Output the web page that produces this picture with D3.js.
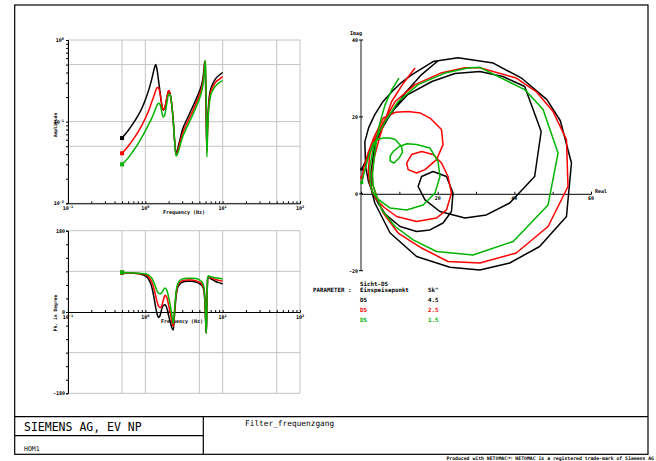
<!DOCTYPE html>
<meta charset="utf-8">
<style>
  body { margin: 0; background: #fff; }
  svg { display: block; font-family: "DejaVu Sans Mono", monospace; }
  .grid line { stroke: #c4c4c4; stroke-width: 1px; }
  .curve { fill: none; stroke-width: 1.5px; stroke-linejoin: round; }
  .lbl { font-size: 5px; font-weight: bold; }
  .axis path, .axis line { stroke: #000; stroke-width: 1px; }
  .frame { fill: none; stroke: #000; stroke-width: 1.2px; }
</style>
<body>
<script src="https://cdn.jsdelivr.net/npm/d3@7/dist/d3.min.js"></script>
<script>

// frequency grid (Hz), shared by the three curves
var freq = [0.5, 0.6, 0.7, 0.8, 0.9, 1.0, 1.1, 1.2, 1.3, 1.36, 1.42, 1.48, 1.55, 1.62, 1.7, 1.8, 1.9, 2.0, 2.1, 2.2,
            2.3, 2.4, 2.5, 2.6, 2.8, 3.0, 3.5, 4.0, 4.5, 5.0, 5.3, 5.55, 5.75, 5.85, 5.95, 6.05, 6.15, 6.25, 6.4, 6.6,
            6.8, 7.0, 7.5, 8.0, 9.0, 10.0];

// amplitude
var ampBlack = [0.063, 0.078, 0.096, 0.118, 0.145, 0.185, 0.24, 0.32, 0.44, 0.50, 0.43, 0.32, 0.23, 0.17, 0.138, 0.15, 0.195, 0.238, 0.215, 0.16,
                0.10, 0.056, 0.040, 0.045, 0.060, 0.078, 0.11, 0.145, 0.185, 0.235, 0.275, 0.34, 0.45, 0.54, 0.42, 0.20, 0.09, 0.05, 0.10, 0.17,
                0.22, 0.25, 0.295, 0.33, 0.37, 0.40];
var ampRed   = [0.041, 0.05, 0.061, 0.074, 0.09, 0.11, 0.135, 0.17, 0.21, 0.24, 0.26, 0.262, 0.22, 0.165, 0.14, 0.155, 0.20, 0.24, 0.215, 0.16,
                0.10, 0.056, 0.039, 0.042, 0.055, 0.07, 0.098, 0.128, 0.165, 0.21, 0.25, 0.31, 0.41, 0.52, 0.55, 0.30, 0.10, 0.043, 0.09, 0.155,
                0.20, 0.23, 0.27, 0.30, 0.33, 0.356];
var ampGreen = [0.030, 0.036, 0.044, 0.053, 0.064, 0.077, 0.092, 0.108, 0.13, 0.145, 0.16, 0.168, 0.163, 0.135, 0.114, 0.125, 0.17, 0.215, 0.215, 0.16,
                0.10, 0.055, 0.038, 0.040, 0.050, 0.063, 0.088, 0.115, 0.148, 0.19, 0.225, 0.28, 0.37, 0.46, 0.56, 0.40, 0.13, 0.037, 0.08, 0.14,
                0.18, 0.21, 0.245, 0.27, 0.30, 0.318];

// phase (degree)
var phaseBlack = [87, 86.5, 86, 85, 83, 80, 73, 58, 30, 10, -5, -12, -8, 5, 14, 16, 8, -8, -22, -35,
                  -40, 0, 35, 52, 62, 66, 68, 68, 66, 63, 60, 55, 45, 30, 5, -30, -47, 15, 72, 78,
                  76, 74, 71, 68, 65, 62];
var phaseRed   = [87, 86.5, 86, 85.5, 84.5, 83, 78, 68, 50, 36, 22, 13, 10, 12, 25, 37, 32, 15, -2, -20,
                  -32, 5, 40, 56, 66, 69, 71, 71, 69, 66, 63, 58, 48, 35, 10, -28, -47, 15, 74, 78,
                  77, 76, 74, 72, 70, 68];
var phaseGreen = [87.5, 87, 86.5, 86, 85.5, 84.5, 82, 76, 64, 55, 46, 42, 40, 42, 48, 53, 48, 33, 15, -5,
                  -26, 10, 45, 60, 70, 73, 75, 75, 74, 71, 68, 63, 53, 40, 15, -25, -47, 15, 76, 80,
                  79, 78, 77, 76, 74.5, 73];

// locus: [real, imag]
var nyqBlack = [[0.2, 6.4], [1.2, 8.5], [2.3, 11], [3.6, 14], [5.5, 17.5], [8.1, 21.4], [12.2, 25.8], [18.5, 29.2], [24.5, 31.3], [31, 31.8],
                [37, 30.5], [42.7, 27.9], [47, 16.2], [45.3, 4.5], [38.8, -2.4], [32.7, -5.5], [27.1, -6.3], [20.6, -4.6], [16.7, -1.6], [14.9, 1.9],
                [15.8, 4.5], [18.8, 5.8], [22.3, 4.5], [24, 0.2], [23.6, -4.6], [21.4, -7.6], [18, -9.4], [14.5, -9.8], [10.2, -8.5], [6.5, -5.5],
                [4.5, -2.5], [3.2, 0], [2, 3], [1.2, 7], [1, 13.5], [2, 17.2], [3.6, 20.6], [5.6, 23.8], [8.1, 26.6], [10.6, 29],
                [13.3, 31], [18.8, 34.4], [25.3, 35.4], [34.5, 34], [42, 30], [48.5, 24.5], [52, 19], [54.9, 8], [53.6, -5.9], [46.6, -13.7],
                [38.8, -18], [31, -19.8], [23.2, -19.1], [14.5, -16.3], [7.6, -10.2], [3.6, -2.4], [2.6, 1.5], [2.6, 5.5], [3.6, 12.8], [5.2, 16.5],
                [7.1, 19.7], [11.5, 26.2], [15.8, 31], [20.1, 34.6]];
var nyqRed = [[0.2, 4.2], [0.8, 7], [1.8, 10.5], [3.3, 14.5], [5.8, 19.7], [9, 21.2], [12.3, 21.4], [15.5, 21], [18, 19.7], [21, 16.7],
              [21.4, 12.8], [19.7, 8.9], [16.7, 6.3], [14.5, 5.4], [12.3, 6.3], [11.9, 8], [13.2, 10.2], [15.8, 11], [18.8, 10.2], [21, 8],
              [22.7, 4.5], [23.6, 0.2], [22.3, -4.2], [19.7, -6.3], [14.5, -7.2], [9.3, -5.9], [6, -3.5], [4.1, -1.6], [3, 0.5], [2.2, 3],
              [1.9, 6], [2.3, 10.2], [3.5, 14], [5.5, 18], [8.9, 24], [14.1, 28.4], [21.1, 31.5], [27.1, 32.8], [31, 32.8], [40.5, 30.1],
              [45.7, 26.6], [50.1, 21.4], [53.6, 14.1], [54, 1.9], [48.8, -8.5], [40.5, -15.4], [31, -18], [22.7, -17.6], [15.8, -14.1], [9.7, -10.2],
              [5.8, -5], [4.1, -0.7], [3, 2.5], [2.9, 6], [3.6, 10], [4.8, 14.5], [6.2, 19], [8, 24], [11, 28.7], [14.1, 32.7]];
var nyqGreen = [[0.2, 2.9], [0.7, 5], [1.5, 8], [2.3, 10.8], [3.2, 13.2], [4.5, 14.2], [5.8, 14.5], [7.5, 14.5], [8.9, 14.1], [10.6, 12.3],
                [10.8, 10.8], [10, 9.4], [8.6, 8], [7.6, 8.6], [7.6, 9.8], [8.4, 11], [10, 12.3], [12, 13], [14.5, 12.8], [18, 11.9],
                [20.1, 8.4], [20.6, 4.5], [19.3, 0.2], [16.2, -2.9], [11.9, -4.2], [7.6, -3.7], [4.1, -1.1], [3, 0.5], [2.4, 3], [2.3, 7],
                [3.2, 11.9], [4.5, 15.5], [6.3, 18.8], [9.7, 24], [14.9, 28.4], [21.9, 31.4], [27.9, 32.7], [31, 32.9], [42.7, 27.1], [47.5, 21.9],
                [51.4, 10.6], [48.8, -2.9], [39.7, -12.4], [29.2, -15.9], [19.7, -15], [13.6, -12], [8.9, -8.5], [5.4, -4.2], [4.1, -0.7], [3.2, 2],
                [3, 5], [3.4, 9], [4, 13.5], [4.8, 18], [6.3, 23.2], [8, 27], [9.9, 30.1]];

// legend
var legendPoint = ["DS", "DS", "DS"];
var legendSk = ["4.5", "2.5", "1.5"];
var colors = ["#000000", "#ff0000", "#00b400"];

// tick labels
var freqExps = ["-1", "0", "1", "2"];
var ampExps = ["0", "-1", "-2"];
var phaseTicks = [180, 0, -180];
var nyqXTicks = [20, 40, 60];
var nyqYTicks = [40, 20, 0, -20];

var W = 656, H = 461;
var svg = d3.select("body").append("svg").attr("width", W).attr("height", H);

// scales
var xF = d3.scaleLog().domain([0.1, 100]).range([68, 300]);
var yA = d3.scaleLog().domain([0.01, 1]).range([203.3, 40]);
var yP = d3.scaleLinear().domain([-180, 180]).range([393.3, 230.7]);
var xN = d3.scaleLinear().domain([0, 60]).range([361, 591]);
var yN = d3.scaleLinear().domain([-20, 40]).range([270.7, 40]);

var minorF = [];
[0.1, 1, 10].forEach(function(d) { for (var k = 1; k < 10; k++) minorF.push(d * k); });
minorF.push(100);
var minorA = [];
[0.01, 0.1].forEach(function(d) { for (var k = 1; k < 10; k++) minorA.push(d * k); });
minorA.push(1);

function powLabel(x, y, exp, anchor) {
  var t = svg.append("text").attr("class", "lbl").attr("x", x).attr("y", y).attr("text-anchor", anchor);
  t.append("tspan").text("10");
  t.append("tspan").attr("dy", -2).style("font-size", "3.6px").text(exp);
}

// ---------- amplitude plot ----------
var gA = svg.append("g").attr("class", "grid");
[0.1, 0.5, 1, 5, 10, 50, 100].forEach(function(f) {
  gA.append("line").attr("x1", xF(f)).attr("x2", xF(f)).attr("y1", yA(1)).attr("y2", yA(0.01));
});
[0.01, 0.05, 0.1, 0.5, 1].forEach(function(a) {
  gA.append("line").attr("x1", xF(0.1)).attr("x2", xF(100)).attr("y1", yA(a)).attr("y2", yA(a));
});
svg.append("g").attr("class", "axis")
  .attr("transform", "translate(" + xF(0.1) + ",0)")
  .call(d3.axisLeft(yA).tickValues(minorA).tickSize(2).tickFormat(""));
svg.append("g").attr("class", "axis")
  .attr("transform", "translate(0," + yA(0.01) + ")")
  .call(d3.axisTop(xF).tickValues(minorF).tickSize(2).tickFormat(""));

freqExps.forEach(function(e) { powLabel(xF(Math.pow(10, +e)), 210, e, "middle"); });
ampExps.forEach(function(e) { powLabel(64, yA(Math.pow(10, +e)) + 2, e, "end"); });
svg.append("text").attr("class", "lbl").attr("x", 184).attr("y", 214).attr("text-anchor", "middle").text("Frequency (Hz)");
svg.append("text").attr("class", "lbl").style("font-size", "4.5px")
  .attr("transform", "translate(57,125) rotate(-90)").attr("text-anchor", "middle").text("Amplitude");

var ampLine = d3.line().curve(d3.curveMonotoneX)
  .x(function(d, i) { return xF(freq[i]); })
  .y(function(d) { return yA(d); });
[ampBlack, ampRed, ampGreen].forEach(function(s, k) {
  svg.append("path").datum(s).attr("class", "curve").attr("stroke", colors[k]).attr("d", ampLine);
  svg.append("rect").attr("x", xF(freq[0]) - 2).attr("y", yA(s[0]) - 2).attr("width", 4).attr("height", 4).attr("fill", colors[k]);
});

// ---------- phase plot ----------
var gP = svg.append("g").attr("class", "grid");
[0.1, 0.5, 1, 5, 10, 50, 100].forEach(function(f) {
  gP.append("line").attr("x1", xF(f)).attr("x2", xF(f)).attr("y1", yP(180)).attr("y2", yP(-180));
});
[-180, -90, 90, 180].forEach(function(p) {
  gP.append("line").attr("x1", xF(0.1)).attr("x2", xF(100)).attr("y1", yP(p)).attr("y2", yP(p));
});
svg.append("g").attr("class", "axis")
  .attr("transform", "translate(" + xF(0.1) + ",0)")
  .call(d3.axisLeft(yP).tickValues(d3.range(-180, 181, 30)).tickSize(2).tickFormat(""));
svg.append("g").attr("class", "axis")
  .attr("transform", "translate(0," + yP(0) + ")")
  .call(d3.axisTop(xF).tickValues(minorF).tickSize(2).tickFormat(""));

freqExps.forEach(function(e) { powLabel(xF(Math.pow(10, +e)), 318.5, e, "middle"); });
phaseTicks.forEach(function(p) {
  svg.append("text").attr("class", "lbl").attr("x", 65).attr("y", yP(p) + 2).attr("text-anchor", "end").text(p);
});
svg.append("text").attr("class", "lbl").attr("x", 182).attr("y", 322.5).attr("text-anchor", "middle").text("Frequency (Hz)");
svg.append("text").attr("class", "lbl").style("font-size", "4.7px")
  .attr("transform", "translate(57,313) rotate(-90)").attr("text-anchor", "middle").text("Ph. in Degree");

var phLine = d3.line().curve(d3.curveMonotoneX)
  .x(function(d, i) { return xF(freq[i]); })
  .y(function(d) { return yP(d); });
[phaseBlack, phaseRed, phaseGreen].forEach(function(s, k) {
  svg.append("path").datum(s).attr("class", "curve").attr("stroke", colors[k]).attr("d", phLine);
  svg.append("rect").attr("x", xF(freq[0]) - 2).attr("y", yP(s[0]) - 2).attr("width", 4).attr("height", 4).attr("fill", colors[k]);
});

// ---------- locus plot ----------
svg.append("line").attr("x1", xN(0)).attr("x2", xN(0)).attr("y1", yN(40)).attr("y2", yN(-20))
  .attr("stroke", "#8c8c8c").attr("stroke-width", 2);
svg.append("g").attr("class", "axis")
  .attr("transform", "translate(0," + yN(0) + ")")
  .call(d3.axisTop(xN).tickValues(d3.range(0, 61, 10)).tickSize(2).tickFormat(""));
nyqYTicks.forEach(function(v) {
  svg.append("line").attr("x1", xN(0) - 2).attr("x2", xN(0) + 2).attr("y1", yN(v)).attr("y2", yN(v)).attr("stroke", "#000");
  svg.append("text").attr("class", "lbl").attr("x", 358).attr("y", yN(v) + 2).attr("text-anchor", "end").text(v);
});
nyqXTicks.forEach(function(v) {
  svg.append("text").attr("class", "lbl").attr("x", xN(v)).attr("y", yN(0) + 6).attr("text-anchor", "middle").text(v);
});
svg.append("text").attr("class", "lbl").attr("x", 356).attr("y", 35).attr("text-anchor", "middle").text("Imag");
svg.append("text").attr("class", "lbl").attr("x", 595).attr("y", 193).text("Real");

var nqLine = d3.line()
  .x(function(d) { return xN(d[0]); })
  .y(function(d) { return yN(d[1]); });
[nyqBlack, nyqRed, nyqGreen].forEach(function(s, k) {
  svg.append("path").datum(s).attr("class", "curve").attr("stroke", colors[k]).attr("stroke-width", 1.2).attr("d", nqLine);
  svg.append("rect").attr("x", xN(s[0][0]) - 1.5).attr("y", yN(s[0][1]) - 1.5).attr("width", 3).attr("height", 3).attr("fill", colors[k]);
});

// ---------- legend ----------
var lg = svg.append("g").attr("class", "lbl").style("font-size", "5.8px");
lg.append("text").attr("x", 360).attr("y", 285.5).text("Sicht-DS");
lg.append("text").attr("x", 313).attr("y", 292).text("PARAMETER :");
lg.append("text").attr("x", 360).attr("y", 292).text("Einspeisepunkt");
lg.append("text").attr("x", 428).attr("y", 292).text("Sk\"");
legendPoint.forEach(function(p, i) {
  var y = 302 + i * 10;
  lg.append("text").attr("x", 360).attr("y", y).attr("fill", colors[i]).text(p);
  lg.append("text").attr("x", 428).attr("y", y).attr("fill", colors[i]).text(legendSk[i]);
});

// ---------- frame & title block ----------
svg.append("rect").attr("class", "frame").attr("x", 14.7).attr("y", 5).attr("width", 648 - 14.7).attr("height", 454.3 - 5);
svg.append("line").attr("class", "frame").attr("x1", 14.7).attr("x2", 648).attr("y1", 416.7).attr("y2", 416.7);
svg.append("line").attr("class", "frame").attr("x1", 203.3).attr("x2", 203.3).attr("y1", 416.7).attr("y2", 454.3);
svg.append("line").attr("class", "frame").attr("x1", 14.7).attr("x2", 203.3).attr("y1", 435.7).attr("y2", 435.7);
svg.append("text").attr("x", 24).attr("y", 431).style("font-size", "11.5px").text("SIEMENS AG, EV NP");
svg.append("text").attr("x", 24).attr("y", 451).style("font-size", "6.5px").text("HOM1");
svg.append("text").attr("x", 245).attr("y", 426).style("font-size", "7.8px").text("Filter_frequenzgang");
var ft = svg.append("text").attr("x", 654).attr("y", 460).attr("text-anchor", "end")
  .style("font-size", "4.8px").style("font-weight", "bold");
ft.append("tspan").text("Produced with NETOMAC");
ft.append("tspan").attr("dy", -1.5).style("font-size", "3px").text("(R)");
ft.append("tspan").attr("dy", 1.5).text(" NETOMAC is a registered trade-mark of Siemens AG");

</script>
</body>
